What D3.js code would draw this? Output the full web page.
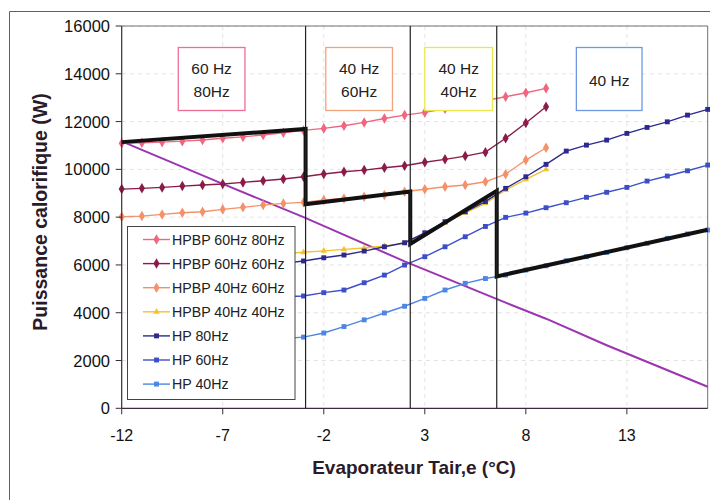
<!DOCTYPE html>
<html><head><meta charset="utf-8">
<script src="https://cdn.jsdelivr.net/npm/d3@7"></script>
<style>body{margin:0;background:#fff}svg{display:block}text{font-family:"Liberation Sans",Arial,sans-serif}</style>
</head><body><svg id="c" width="710" height="503"></svg>
<script>
// ---- data ----
const xTicks = [-12, -7, -2, 3, 8, 13];
const yTicks = [0, 2000, 4000, 6000, 8000, 10000, 12000, 14000, 16000];

const xHPBP = [-12,-11,-10,-9,-8,-7,-6,-5,-4,-3,-2,-1,0,1,2,3,4,5,6,7,8,9];
const hpbp6080 = [11090,11110,11140,11180,11230,11300,11360,11440,11530,11630,11715,11825,11965,12130,12270,12385,12535,12690,12880,13040,13205,13390];
const hpbp6060 = [9175,9205,9245,9300,9345,9385,9455,9525,9595,9690,9805,9900,9970,10065,10150,10295,10420,10555,10720,11300,11940,12620];
const hpbp4060 = [8015,8045,8115,8185,8225,8325,8410,8505,8575,8620,8715,8785,8855,8925,9065,9165,9270,9345,9480,9800,10390,10905];
const xHPBP4040 = [-4,-3,-2,-1,0,1,2,3,4,5,6,7,8,9];
const hpbp4040 = [6480,6530,6590,6650,6710,6790,6900,7320,7760,8180,8580,9135,9580,10000];

const xHP = [-4,-3,-2,-1,0,1,2,3,4,5,6,7,8,9,10,11,12,13,14,15,16,17];
const hp80 = [6065,6165,6300,6415,6580,6760,6930,7345,7810,8225,8650,9205,9690,10210,10765,11015,11225,11505,11755,11990,12270,12510];
const hp60 = [4670,4700,4840,4950,5255,5575,5995,6345,6760,7180,7610,7990,8170,8395,8605,8830,9040,9245,9510,9720,9940,10180];
const hp40 = [2920,2980,3150,3420,3700,3990,4270,4600,4950,5230,5430,5575,5785,5965,6175,6345,6525,6720,6905,7115,7295,7460];

const loadX = [-12,-7,-3,2,7,9,12,17];
const loadY = [11170,9390,8000,6150,4420,3750,2640,900];

const pathX = [-12,-2.9,-2.9,2.28,2.28,6.56,6.56,17];
const pathY = [11140,11690,8540,9070,6880,9100,5520,7470];

const switchX = [-2.9, 2.28, 6.56];

const zones = [
  {lines:["60 Hz","80Hz"], x0:-9.2, x1:-5.9, color:"#ee6f93"},
  {lines:["40 Hz","60Hz"], x0:-1.9, x1:1.4, color:"#f3a37a"},
  {lines:["40 Hz","40Hz"], x0:3.0, x1:6.35, color:"#ede64a"},
  {lines:["40 Hz"], x0:10.5, x1:13.75, color:"#6f98e0"}
];

const series = [
  {name:"HPBP 60Hz 80Hz", xs:xHPBP, ys:hpbp6080, color:"#f0657f", sym:d3.symbolDiamond, size:32},
  {name:"HPBP 60Hz 60Hz", xs:xHPBP, ys:hpbp6060, color:"#8a1c4a", sym:d3.symbolDiamond, size:32},
  {name:"HPBP 40Hz 60Hz", xs:xHPBP, ys:hpbp4060, color:"#f4916a", sym:d3.symbolDiamond, size:32},
  {name:"HPBP 40Hz 40Hz", xs:xHPBP4040, ys:hpbp4040, color:"#f5c12e", sym:d3.symbolTriangle, size:18},
  {name:"HP 80Hz", xs:xHP, ys:hp80, color:"#2c2a8e", sym:d3.symbolSquare, size:24},
  {name:"HP 60Hz", xs:xHP, ys:hp60, color:"#3d4fc8", sym:d3.symbolSquare, size:24},
  {name:"HP 40Hz", xs:xHP, ys:hp40, color:"#4d86e4", sym:d3.symbolSquare, size:24}
];

// ---- layout ----
const L = 121.7, R = 707.7, T = 26, B = 408.3;
const x = d3.scaleLinear().domain([-12, 17]).range([L, R]);
const y = d3.scaleLinear().domain([0, 16000]).range([B, T]);
const svg = d3.select("#c");

// outer frame
svg.append("path").attr("d", `M9.5,500 V11.5 H712`).attr("fill","none").attr("stroke","#6b5a6b").attr("stroke-width",1);

// gridlines
svg.append("g").selectAll("line").data(yTicks.slice(1)).join("line")
  .attr("x1", L).attr("x2", R).attr("y1", d=>y(d)).attr("y2", d=>y(d))
  .attr("stroke","#dcdcdc").attr("stroke-dasharray","4,4").attr("stroke-width",0.8);
svg.append("g").selectAll("line").data(xTicks.slice(1)).join("line")
  .attr("x1", d=>x(d)).attr("x2", d=>x(d)).attr("y1", T).attr("y2", B)
  .attr("stroke","#dcdcdc").attr("stroke-dasharray","4,4").attr("stroke-width",0.8);

// plot frame (top / right)
svg.append("path").attr("d", `M${L},${T} H${R} V${B}`).attr("fill","none").attr("stroke","#7a6a7a").attr("stroke-width",1);

const line = d3.line().x(d=>x(d[0])).y(d=>y(d[1]));

// load line
svg.append("path").attr("d", line(loadX.map((v,i)=>[v, loadY[i]])))
  .attr("fill","none").attr("stroke","#9b35b0").attr("stroke-width",2);

// series
series.forEach(s=>{
  const pts = s.xs.map((v,i)=>[v, s.ys[i]]);
  svg.append("path").attr("d", line(pts)).attr("fill","none").attr("stroke", s.color).attr("stroke-width",1.4);
  svg.append("g").selectAll("path").data(pts).join("path")
    .attr("transform", d=>`translate(${x(d[0])},${y(d[1])})`)
    .attr("d", d3.symbol().type(s.sym).size(s.size)())
    .attr("fill", s.color);
});

// switching path (bold black)
svg.append("path").attr("d", line(pathX.map((v,i)=>[v, pathY[i]])))
  .attr("fill","none").attr("stroke","#111").attr("stroke-width",4).attr("stroke-linejoin","miter");

// zone separators
svg.append("g").selectAll("line").data(switchX).join("line")
  .attr("x1", d=>x(d)).attr("x2", d=>x(d)).attr("y1", T).attr("y2", B)
  .attr("stroke","#222").attr("stroke-width",1.2);

// zone boxes
zones.forEach(z=>{
  const bx0 = x(z.x0), bx1 = x(z.x1);
  svg.append("rect").attr("x", bx0).attr("y", 47.5).attr("width", bx1-bx0).attr("height", 63)
    .attr("fill","#fff").attr("stroke", z.color).attr("stroke-width",1.3);
  const cx = (bx0+bx1)/2;
  if (z.lines.length === 2) {
    svg.append("text").attr("x", cx).attr("y", 73.5).attr("text-anchor","middle").attr("font-size",15.5).attr("fill","#222").text(z.lines[0]);
    svg.append("text").attr("x", cx).attr("y", 96.5).attr("text-anchor","middle").attr("font-size",15.5).attr("fill","#222").text(z.lines[1]);
  } else {
    svg.append("text").attr("x", cx).attr("y", 86).attr("text-anchor","middle").attr("font-size",15.5).attr("fill","#222").text(z.lines[0]);
  }
});

// legend
const lg = svg.append("g");
lg.append("rect").attr("x",127.5).attr("y",226.5).attr("width",167.5).attr("height",173)
  .attr("fill","#fff").attr("stroke","#444").attr("stroke-width",1);
series.forEach((s,i)=>{
  const cy = 239.5 + i*24.1;
  lg.append("line").attr("x1",143).attr("x2",170).attr("y1",cy).attr("y2",cy).attr("stroke",s.color).attr("stroke-width",1.4);
  lg.append("path").attr("transform",`translate(156.5,${cy})`).attr("d", d3.symbol().type(s.sym).size(s.size)()).attr("fill",s.color);
  lg.append("text").attr("x",172).attr("y",cy+5).attr("font-size",14.2).attr("fill","#222").text(s.name);
});

// axes
const axCol = "#3a2a3a";
svg.append("line").attr("x1",L).attr("x2",R).attr("y1",B).attr("y2",B).attr("stroke",axCol).attr("stroke-width",1.2);
svg.append("line").attr("x1",L).attr("x2",L).attr("y1",T).attr("y2",B).attr("stroke",axCol).attr("stroke-width",1.2);
svg.append("g").selectAll("line").data(xTicks).join("line")
  .attr("x1",d=>x(d)).attr("x2",d=>x(d)).attr("y1",B).attr("y2",B+6).attr("stroke",axCol);
svg.append("g").selectAll("text").data(xTicks).join("text")
  .attr("x",d=>x(d)).attr("y",441).attr("text-anchor","middle").attr("font-size",16).attr("fill","#111").text(d=>d);
svg.append("g").selectAll("line").data(yTicks).join("line")
  .attr("x1",L-6).attr("x2",L).attr("y1",d=>y(d)).attr("y2",d=>y(d)).attr("stroke",axCol);
svg.append("g").selectAll("text").data(yTicks).join("text")
  .attr("x",110).attr("y",d=>y(d)+6).attr("text-anchor","end").attr("font-size",16.5).attr("fill","#111").text(d=>d);

// titles
svg.append("text").attr("x",414).attr("y",474).attr("text-anchor","middle").attr("font-size",19).attr("font-weight","bold").attr("fill","#2a1a2a").text("Evaporateur Tair,e (°C)");
svg.append("text").attr("transform","translate(47,212) rotate(-90)").attr("text-anchor","middle").attr("font-size",19.5).attr("font-weight","bold").attr("fill","#2a1a2a").text("Puissance calorifique (W)");
</script></body></html>
